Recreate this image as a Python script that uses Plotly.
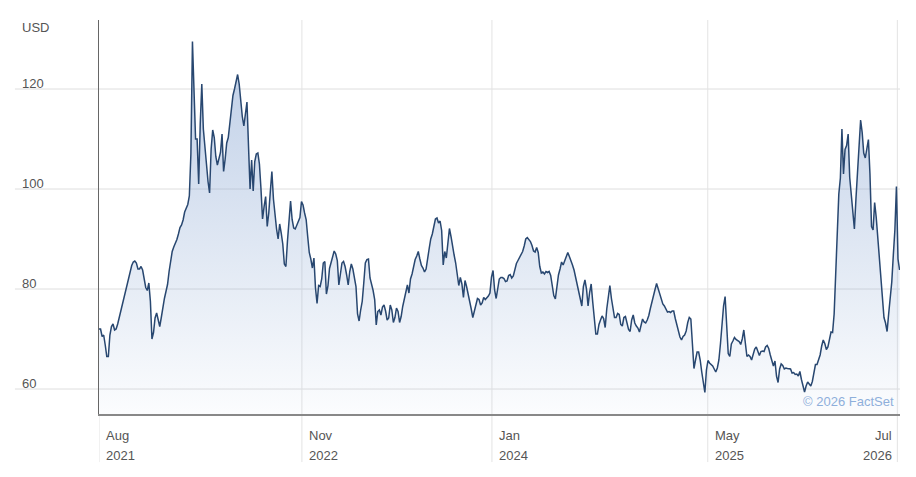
import pandas as pd
import plotly.graph_objects as go

# closes every half week, first point 2021-08-02
start_date = "2021-08-02"
prices = [
    72, 72, 70.5, 70.8, 68.8, 66.5, 66.5, 70.8, 72.5, 73,
    71.8, 72, 73, 74.3, 75.8, 77.4, 78.7, 79.6, 80.8, 82.6,
    83.8, 84.7, 85.4, 85.6, 85.2, 84, 84, 84.5, 83.8, 82.2,
    80.3, 79.7, 81.2, 77.5, 70, 71.3, 74.2, 75.2, 74, 72.5,
    74.3, 76.6, 78.1, 79.5, 80.9, 83.5, 85.7, 87.5, 88.4, 89.1,
    89.9, 91, 92.3, 92.8, 93.8, 95.4, 96.1, 96.9, 98.6, 107,
    129.5, 119, 110, 110, 101, 113, 121, 112, 109, 105,
    101.5, 99.2, 108, 111.8, 110.3, 106.5, 104.8, 106.4, 107.3, 111,
    103.5, 106, 109.2, 110.3, 113, 116.8, 118.7, 120, 121.2, 122.9,
    121, 116.8, 114.5, 112.6, 115.2, 117.4, 108.5, 100, 105.8, 99.6,
    105.5, 107, 107.2, 105, 100, 94, 96.5, 98.5, 92.5, 95.2,
    99.5, 103.5, 98, 94.6, 92, 90, 93, 91.2, 89, 85,
    84.5, 89.6, 94.3, 97.6, 93.9, 92.2, 92, 92.9, 93.8, 94.3,
    97.5, 96.8, 95.2, 93.9, 90.5, 87.3, 86, 84.2, 86.2, 80.2,
    77.1, 80.7, 80.5, 82, 85.2, 85.5, 79, 80.6, 84.1, 85.4,
    86.4, 87.6, 87, 85.7, 80.8, 82.7, 85.2, 85.5, 84.5, 82.8,
    80.8, 83.5, 85, 84, 82, 80.5, 75, 73.6, 75.8, 77.5,
    81.2, 85.2, 85.9, 86, 82.2, 81, 79.7, 77.9, 72.8, 75.5,
    75.8, 74.8, 76.4, 76.8, 75.6, 73.8, 74.2, 76.8, 75.8, 73.3,
    74.3, 76.2, 75.5, 73.3, 74.5, 76.5, 78, 79, 80.8, 79.2,
    82, 83, 84.7, 85.9, 86.6, 87.5, 86, 84.7, 84.2, 83.4,
    84, 85.7, 88.1, 90, 91, 92.5, 94, 94.2, 93.2, 93.6,
    91.7, 84.8, 87.5, 86.2, 89.4, 92.1, 90.5, 88.3, 86.8, 85.2,
    82.7, 80.7, 82.3, 81, 78.3, 81.7, 80.5, 79.2, 77.3, 76,
    74.3, 75.6, 77.3, 78.1, 77.9, 76.8, 77.2, 78.3, 77.9, 78.2,
    78.6, 79.2, 82.4, 83.7, 79.8, 78.1, 80.2, 82, 82.3, 82.3,
    82.1, 81.5, 81.6, 82.7, 82.9, 82.2, 82.6, 84.1, 85.1, 85.7,
    86.4, 87, 87.5, 88.6, 90, 90.3, 90, 89.5, 88.7, 87.6,
    87.4, 88.3, 87.3, 84.5, 83.2, 83.4, 83, 83.5, 83.3, 83.5,
    82.7, 80.8, 78.7, 78, 80.5, 82.8, 84, 85.4, 84.8, 85.6,
    86.6, 87.3, 86.5, 85.4, 84.8, 83.8, 82.4, 81.4, 80, 78,
    76.6, 80.5, 81.8, 80, 76.6, 79.3, 81, 77.4, 73.7, 71,
    71, 72.9, 73.8, 74.6, 74.1, 72.3, 76, 78.5, 80.7, 78.1,
    76.4, 74.3, 74.3, 75.1, 74.9, 72.9, 72.6, 74.3, 74.5, 72.8,
    71.9, 71.5, 73.8, 74.8, 73.2, 72.6, 72.2, 71.4, 73, 74,
    73.4, 73.2, 73.8, 74.7, 76.1, 77.2, 78.7, 79.9, 81.1, 80.1,
    78.9, 77.9, 77, 76.6, 76, 75.4, 75.5, 75.3, 75.6, 75.6,
    74.1, 72.9, 71.9, 70.4, 69.8, 70.5, 70.8, 71.6, 73.3, 74.3,
    74, 68, 64.1, 65.8, 67.4, 67.4, 65.8, 63.4, 61.5, 59.3,
    63.8, 65.7, 65.2, 64.9, 64.6, 64, 63.4, 64.2, 65.8, 69,
    73.7, 76.6, 78.5, 73.5, 67.1, 66.5, 69, 69.6, 70.3, 69.9,
    69.6, 69.5, 68.9, 70, 71.8, 68.5, 66.5, 66.8, 66.5, 65.8,
    67, 68, 68.4, 67.5, 66.7, 67.5, 67.6, 67.5, 68.4, 68.7,
    68.1, 66.8, 65.6, 64.6, 65.6, 62.6, 61.3, 64, 65, 64.7,
    64, 64.2, 64.1, 64.1, 64, 63.2, 63.3, 62.9, 63, 62.6,
    63.5, 61.9, 60.6, 59.4, 60.6, 61.4, 61, 60.6, 61.5, 63.6,
    64.9, 64.9, 65.9, 66.8, 68.6, 69.8, 69.1, 67.9, 68.4, 70.1,
    71.4, 71.3, 75, 83, 92, 99, 102.2, 112, 103, 107.9,
    108.7, 111, 102.3, 98.3, 95, 92, 98, 103.3, 108, 113.8,
    111.3, 107.2, 106.2, 108, 109.9, 103, 92.5, 91.8, 97.3, 94.4,
    90.6, 85.9, 81.4, 79, 74.3, 73.2, 71.5, 75, 77.8, 81.4,
    86.8, 91.8, 100.5, 86, 83.8,
]
dates = pd.date_range(start_date, periods=len(prices), freq="84h")

tick_dates = ["2021-08-02", "2022-11-01", "2024-01-02", "2025-05-01", "2026-07-01"]
tick_months = ["Aug", "Nov", "Jan", "May", "Jul"]
tick_years = ["2021", "2022", "2024", "2025", "2026"]
y_ticks = [60, 80, 100, 120]

font = "Liberation Sans, Arial, sans-serif"
label_col = "#555555"

fig = go.Figure()
fig.add_trace(go.Scatter(
    x=dates, y=prices, mode="lines",
    line=dict(color="#284770", width=1.5),
    fill="tozeroy",
    fillgradient=dict(type="vertical", start=55, stop=130,
                      colorscale=[[0, "rgba(135,165,210,0.03)"],
                                  [1, "rgba(135,165,210,0.55)"]]),
    showlegend=False, hoverinfo="x+y",
))

shapes = []
annotations = []

# horizontal grid, running out to the left under the labels
for v in y_ticks:
    shapes.append(dict(type="line", xref="paper", yref="y", x0=-0.105, x1=1,
                       y0=v, y1=v, layer="below",
                       line=dict(color="#dedede", width=1)))
    annotations.append(dict(xref="paper", yref="y", x=0, y=v, xshift=-79,
                            yshift=-4, xanchor="left", yanchor="bottom",
                            text=str(v), showarrow=False,
                            font=dict(family=font, size=13, color=label_col)))

annotations.append(dict(xref="paper", yref="paper", x=0, y=1, xshift=-79,
                        yshift=-7, xanchor="left", yanchor="middle",
                        text="USD", showarrow=False,
                        font=dict(family=font, size=13, color=label_col)))

# vertical grid lines hang below the axis, labels sit beside them
for i, d in enumerate(tick_dates):
    y_top = 0 if i == 0 else 1
    shapes.append(dict(type="line", xref="x", yref="paper", x0=d, x1=d,
                       y0=-0.122, y1=y_top, layer="below",
                       line=dict(color="#e3e3e3", width=1)))
    last = i == len(tick_dates) - 1
    for txt, shift in [(tick_months[i], -21), (tick_years[i], -41)]:
        annotations.append(dict(xref="x", yref="paper", x=d, y=0,
                                xshift=-3 if last else 5, yshift=shift,
                                xanchor="right" if last else "left",
                                yanchor="middle", text=txt, showarrow=False,
                                font=dict(family=font, size=13, color=label_col)))

annotations.append(dict(xref="paper", yref="paper", x=1, y=0, xshift=-4,
                        yshift=3, xanchor="right", yanchor="bottom",
                        text="© 2026 FactSet", showarrow=False,
                        font=dict(family=font, size=13, color="#8eafdb")))

# page body keeps an 8px margin, so the figure is sized to fit inside it
fig.update_layout(
    width=900, height=461,
    margin=dict(l=91, r=8, t=12, b=55),
    paper_bgcolor="white", plot_bgcolor="white",
    shapes=shapes, annotations=annotations,
    font=dict(family=font, size=13, color=label_col),
)
fig.update_xaxes(range=["2021-08-02", "2026-07-07"], showgrid=False,
                 showticklabels=False, ticks="", zeroline=False,
                 showline=True, linecolor="#888888", linewidth=1.5)
fig.update_yaxes(range=[55, 133.8], showgrid=False, showticklabels=False,
                 ticks="", zeroline=False,
                 showline=True, linecolor="#666666", linewidth=1)

fig.write_html("out.html")
